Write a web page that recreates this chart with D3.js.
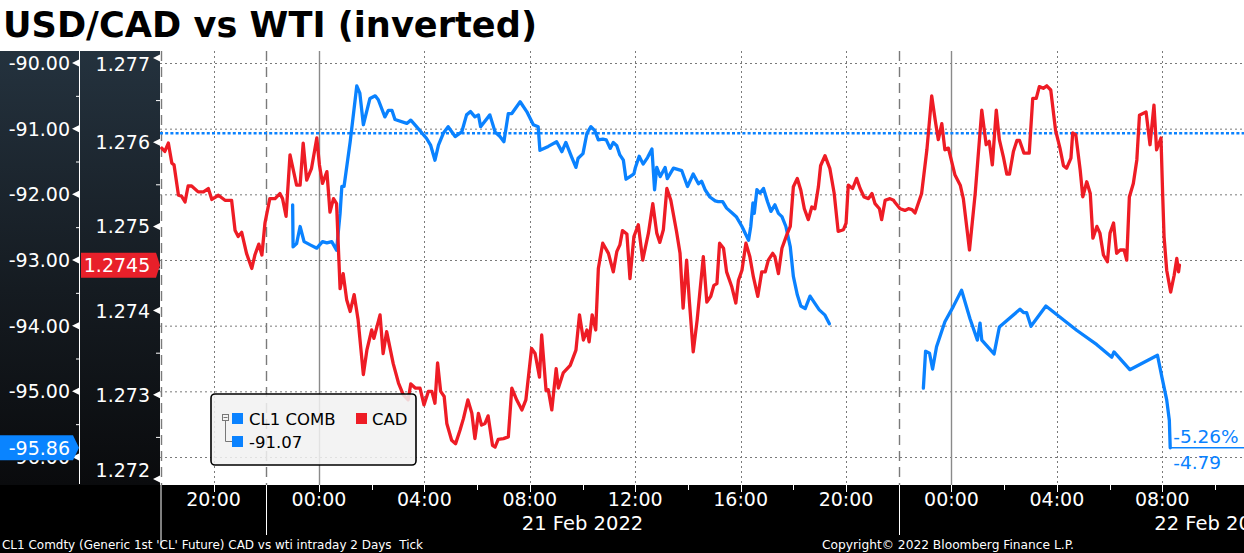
<!DOCTYPE html>
<html><head><meta charset="utf-8">
<script src="https://cdn.jsdelivr.net/npm/d3@7"></script>
<style>
html,body{margin:0;padding:0;background:#fff;overflow:hidden}
svg{display:block}
text{font-family:"DejaVu Sans",Verdana,sans-serif}
</style></head><body>
<svg id="c" width="1244" height="553"></svg>
<script>
const titleText = "USD/CAD vs WTI (inverted)";
const footerLeft = "CL1 Comdty (Generic 1st 'CL' Future) CAD vs wti intraday 2 Days  Tick";
const footerRight = "Copyright\u00a9 2022 Bloomberg Finance L.P.";
const seriesNames = ["CL1 COMB", "CAD"];
const wtiRef = -91.07;
const wtiTicks = [-90, -91, -92, -93, -94, -95, -96];
const cadTicks = [1.277, 1.276, 1.275, 1.274, 1.273, 1.272];
const timeLabelTicks = ["20 20:00","21 00:00","21 04:00","21 08:00","21 12:00","21 16:00","21 20:00","22 00:00","22 04:00","22 08:00"];
const timeMinorTicks = ["20 22:00","21 02:00","21 06:00","21 10:00","21 14:00","21 18:00","21 22:00","22 02:00","22 06:00","22 10:00"];
const dateLabels = [["21 10:00","21 Feb 2022"],["22 10:00","22 Feb 2022"]];
const dottedGrid = ["20 20:00","21 04:00","21 08:00","21 12:00","21 16:00","21 20:00","22 04:00","22 08:00"];
const solidGrid = ["21 00:00","22 00:00"];
const dashedGrid = ["20 18:00","20 22:00","21 22:00"];
const timeDomain = ["20 17:58","22 11:06"];

const cadSeries = [
["20 18:02",1.27593],["20 18:09",1.27589],["20 18:17",1.27599],["20 18:25",1.27575],["20 18:30",1.27573],
["20 18:40",1.27537],["20 18:47",1.27536],["20 18:55",1.27529],["20 19:02",1.27548],["20 19:10",1.27548],
["20 19:25",1.27541],["20 19:37",1.27541],["20 19:48",1.27545],["20 19:56",1.27532],["20 20:11",1.27537],
["20 20:26",1.27531],["20 20:41",1.27531],["20 20:49",1.27495],["20 20:56",1.27488],["20 21:04",1.27493],
["20 21:15",1.27468],["20 21:27",1.27450],["20 21:34",1.27466],["20 21:43",1.27479],["20 21:50",1.27466],
["20 21:57",1.27504],["20 22:08",1.27533],["20 22:20",1.27533],["20 22:31",1.27539],["20 22:37",1.27533],
["20 22:45",1.27512],["20 22:54",1.27585],["20 23:09",1.27549],["20 23:17",1.27549],["20 23:24",1.27599],
["20 23:32",1.27555],["20 23:43",1.27569],["20 23:55",1.27605],["21 00:01",1.27573],["21 00:08",1.27551],
["21 00:18",1.27565],["21 00:25",1.27517],["21 00:33",1.27533],["21 00:40",1.27527],["21 00:48",1.27426],
["21 00:55",1.27444],["21 01:03",1.27413],["21 01:11",1.27399],["21 01:20",1.27419],["21 01:29",1.27389],
["21 01:41",1.27324],["21 01:49",1.27353],["21 02:00",1.27377],["21 02:05",1.27367],["21 02:19",1.27395],
["21 02:26",1.27349],["21 02:34",1.27375],["21 02:49",1.27337],["21 03:01",1.27314],["21 03:12",1.27300],
["21 03:23",1.27294],["21 03:29",1.27313],["21 03:39",1.27308],["21 03:50",1.27308],["21 03:59",1.27288],
["21 04:09",1.27304],["21 04:17",1.27304],["21 04:24",1.27290],["21 04:30",1.27338],["21 04:37",1.27304],
["21 04:45",1.27298],["21 04:51",1.27266],["21 05:02",1.27246],["21 05:11",1.27242],["21 05:21",1.27258],
["21 05:29",1.27272],["21 05:39",1.27294],["21 05:48",1.27278],["21 05:55",1.27248],["21 06:03",1.27278],
["21 06:10",1.27264],["21 06:18",1.27266],["21 06:25",1.27275],["21 06:35",1.27240],["21 06:41",1.27238],
["21 06:48",1.27247],["21 07:00",1.27248],["21 07:11",1.27250],["21 07:19",1.27308],["21 07:30",1.27294],
["21 07:42",1.27282],["21 07:51",1.27294],["21 08:04",1.27355],["21 08:12",1.27349],["21 08:22",1.27321],
["21 08:27",1.27371],["21 08:37",1.27305],["21 08:42",1.27306],["21 08:50",1.27282],["21 09:00",1.27331],
["21 09:05",1.27308],["21 09:16",1.27326],["21 09:32",1.27335],["21 09:45",1.27353],["21 09:53",1.27395],
["21 10:02",1.27365],["21 10:10",1.27377],["21 10:15",1.27363],["21 10:22",1.27395],["21 10:30",1.27377],
["21 10:36",1.27450],["21 10:46",1.27480],["21 10:59",1.27468],["21 11:10",1.27446],["21 11:18",1.27470],
["21 11:25",1.27478],["21 11:31",1.27495],["21 11:41",1.27491],["21 11:48",1.27438],["21 11:57",1.27488],
["21 12:07",1.27502],["21 12:17",1.27460],["21 12:30",1.27492],["21 12:40",1.27527],["21 12:49",1.27492],
["21 12:56",1.27481],["21 13:04",1.27496],["21 13:12",1.27545],["21 13:21",1.27531],["21 13:34",1.27494],
["21 13:42",1.27468],["21 13:49",1.27403],["21 13:57",1.27460],["21 14:03",1.27413],["21 14:12",1.27351],
["21 14:21",1.27389],["21 14:35",1.27464],["21 14:43",1.27410],["21 14:52",1.27417],["21 14:59",1.27430],
["21 15:06",1.27432],["21 15:12",1.27480],["21 15:21",1.27474],["21 15:28",1.27446],["21 15:40",1.27428],
["21 15:49",1.27409],["21 15:55",1.27436],["21 16:03",1.27448],["21 16:12",1.27480],["21 16:21",1.27464],
["21 16:29",1.27440],["21 16:39",1.27417],["21 16:48",1.27446],["21 16:56",1.27446],["21 17:03",1.27460],
["21 17:13",1.27468],["21 17:18",1.27464],["21 17:26",1.27444],["21 17:34",1.27474],["21 17:45",1.27490],
["21 17:53",1.27500],["21 18:00",1.27547],["21 18:09",1.27557],["21 18:17",1.27543],["21 18:25",1.27521],
["21 18:34",1.27508],["21 18:42",1.27523],["21 18:49",1.27521],["21 18:57",1.27547],["21 19:02",1.27572],
["21 19:12",1.27584],["21 19:23",1.27569],["21 19:33",1.27539],["21 19:42",1.27494],["21 19:54",1.27496],
["21 20:00",1.27504],["21 20:05",1.27549],["21 20:15",1.27545],["21 20:24",1.27557],["21 20:32",1.27545],
["21 20:41",1.27535],["21 20:51",1.27533],["21 20:59",1.27539],["21 21:06",1.27527],["21 21:16",1.27521],
["21 21:21",1.27508],["21 21:29",1.27531],["21 21:40",1.27533],["21 21:48",1.27531],["21 21:52",1.27528],
["21 22:03",1.27521],["21 22:14",1.27519],["21 22:22",1.27521],["21 22:30",1.27520],["21 22:37",1.27516],
["21 22:52",1.27539],["21 23:04",1.27591],["21 23:15",1.27655],["21 23:23",1.27626],["21 23:30",1.27603],
["21 23:38",1.27622],["21 23:45",1.27591],["21 23:53",1.27593],["22 00:08",1.27561],["22 00:20",1.27549],
["22 00:27",1.27533],["22 00:41",1.27472],["22 00:54",1.27539],["22 01:09",1.27638],["22 01:19",1.27597],
["22 01:26",1.27601],["22 01:33",1.27573],["22 01:42",1.27638],["22 01:49",1.27603],["22 01:58",1.27583],
["22 02:06",1.27562],["22 02:12",1.27562],["22 02:21",1.27589],["22 02:29",1.27602],["22 02:35",1.27602],
["22 02:45",1.27587],["22 02:57",1.27587],["22 03:05",1.27652],["22 03:13",1.27652],["22 03:20",1.27666],
["22 03:29",1.27664],["22 03:37",1.27667],["22 03:46",1.27662],["22 03:57",1.27614],["22 04:07",1.27593],
["22 04:15",1.27572],["22 04:22",1.27569],["22 04:32",1.27581],["22 04:36",1.27611],["22 04:43",1.27609],
["22 04:53",1.27567],["22 04:59",1.27535],["22 05:08",1.27553],["22 05:16",1.27539],["22 05:22",1.27486],
["22 05:31",1.27500],["22 05:38",1.27492],["22 05:46",1.27466],["22 05:55",1.27458],["22 06:01",1.27492],
["22 06:09",1.27504],["22 06:16",1.27468],["22 06:24",1.27472],["22 06:33",1.27472],["22 06:39",1.27460],
["22 06:45",1.27535],["22 06:54",1.27551],["22 07:02",1.27579],["22 07:08",1.27632],["22 07:23",1.27636],
["22 07:32",1.27597],["22 07:41",1.27644],["22 07:47",1.27591],["22 07:57",1.27605],["22 08:01",1.27535],
["22 08:04",1.27488],["22 08:10",1.27448],["22 08:19",1.27422],["22 08:27",1.27442],["22 08:33",1.27462],
["22 08:37",1.27446],["22 08:39",1.27454]
];

const wtiSeries = [
["20 23:00",-92.16],["20 23:01",-92.80],["20 23:09",-92.75],["20 23:17",-92.49],["20 23:26",-92.72],
["20 23:40",-92.77],["20 23:55",-92.82],["21 00:08",-92.72],["21 00:18",-92.74],["21 00:29",-92.72],
["21 00:40",-92.85],["21 00:48",-92.29],["21 00:52",-91.88],["21 00:57",-91.88],["21 01:11",-91.20],
["21 01:26",-90.35],["21 01:33",-90.46],["21 01:41",-90.94],["21 01:56",-90.54],["21 02:08",-90.50],
["21 02:15",-90.56],["21 02:30",-90.82],["21 02:38",-90.72],["21 02:46",-90.72],["21 02:53",-90.86],
["21 03:20",-90.92],["21 03:29",-90.87],["21 03:42",-90.97],["21 04:05",-91.15],["21 04:14",-91.25],
["21 04:24",-91.48],["21 04:32",-91.25],["21 04:43",-91.07],["21 04:54",-90.97],["21 05:10",-91.12],
["21 05:25",-91.05],["21 05:36",-90.79],["21 05:45",-90.74],["21 05:55",-90.82],["21 06:03",-90.79],
["21 06:08",-90.97],["21 06:29",-90.79],["21 06:41",-91.05],["21 06:52",-91.12],["21 07:01",-91.20],
["21 07:11",-90.77],["21 07:19",-90.77],["21 07:38",-90.59],["21 07:53",-90.74],["21 08:08",-90.94],
["21 08:19",-90.97],["21 08:23",-91.33],["21 08:42",-91.27],["21 09:01",-91.20],["21 09:13",-91.35],
["21 09:22",-91.21],["21 09:35",-91.43],["21 09:45",-91.59],["21 09:50",-91.45],["21 10:01",-91.38],
["21 10:10",-91.07],["21 10:19",-90.97],["21 10:28",-91.03],["21 10:36",-91.17],["21 10:46",-91.16],
["21 10:54",-91.17],["21 11:03",-91.30],["21 11:10",-91.21],["21 11:18",-91.26],["21 11:25",-91.40],
["21 11:33",-91.48],["21 11:39",-91.77],["21 11:48",-91.73],["21 11:57",-91.69],["21 12:00",-91.60],
["21 12:09",-91.42],["21 12:18",-91.54],["21 12:28",-91.44],["21 12:38",-91.31],["21 12:44",-91.93],
["21 12:49",-91.59],["21 12:57",-91.73],["21 13:08",-91.59],["21 13:13",-91.76],["21 13:27",-91.60],
["21 13:46",-91.64],["21 13:59",-91.88],["21 14:12",-91.69],["21 14:24",-91.84],["21 14:31",-91.80],
["21 14:39",-91.93],["21 14:50",-92.04],["21 15:02",-92.10],["21 15:09",-92.11],["21 15:19",-92.11],
["21 15:28",-92.21],["21 15:40",-92.28],["21 15:50",-92.34],["21 16:03",-92.49],["21 16:18",-92.70],
["21 16:23",-92.49],["21 16:28",-92.13],["21 16:31",-92.29],["21 16:37",-91.93],["21 16:44",-91.98],
["21 16:52",-91.91],["21 17:01",-92.11],["21 17:09",-92.26],["21 17:18",-92.16],["21 17:26",-92.29],
["21 17:34",-92.34],["21 17:43",-92.49],["21 17:53",-92.80],["21 18:00",-93.25],["21 18:09",-93.53],
["21 18:17",-93.70],["21 18:27",-93.74],["21 18:38",-93.55],["21 18:49",-93.66],["21 18:59",-93.76],
["21 19:12",-93.84],["21 19:22",-93.97],["21 21:00",null],
["21 22:56",-94.95],["21 23:01",-94.39],["21 23:10",-94.42],["21 23:17",-94.66],["21 23:26",-94.32],
["21 23:45",-93.94],["22 00:04",-93.71],["22 00:23",-93.46],["22 00:42",-93.89],["22 00:59",-94.22],
["22 01:05",-93.96],["22 01:09",-94.22],["22 01:37",-94.43],["22 01:49",-94.02],["22 02:36",-93.75],
["22 02:44",-93.80],["22 02:51",-93.80],["22 03:01",-94.01],["22 03:35",-93.70],["22 04:11",-93.89],
["22 04:45",-94.07],["22 05:31",-94.29],["22 06:05",-94.48],["22 06:10",-94.40],["22 06:46",-94.67],
["22 07:49",-94.45],["22 07:59",-94.78],["22 08:10",-95.13],["22 08:16",-95.44],["22 08:18",-95.86]
];

const RED = "#ee1c25", BLUE = "#0a82ff";
const W = 1244, H = 553;
const plot = {l:160, r:1244, t:51, b:485};
const parse = d3.timeParse("%Y-%m-%d %H:%M");
const T = s => parse("2022-02-" + s);
const loc = d3.formatLocale({decimal:".", thousands:",", grouping:[3], currency:["$",""], minus:"-"});
const f2 = loc.format(".2f"), f3 = loc.format(".3f"), f4 = loc.format(".4f");

const x = d3.scaleTime().domain(timeDomain.map(T)).range([plot.l, plot.r]);
const yW = d3.scaleLinear().domain([-96, -90]).range([457, 63]);
const yC = d3.scaleLinear().domain([1.272, 1.277]).range([479, 58]);

const cad = cadSeries.map(d => ({t:T(d[0]), v:d[1]}));
const wti = wtiSeries.map(d => ({t:T(d[0]), v:d[1]}));

const svg = d3.select("#c");
const defs = svg.append("defs");
const g1 = defs.append("linearGradient").attr("id","pan").attr("x1",0).attr("y1",0).attr("x2",0).attr("y2",1);
g1.append("stop").attr("offset","0%").attr("stop-color","#24323e");
g1.append("stop").attr("offset","55%").attr("stop-color","#151b21");
g1.append("stop").attr("offset","100%").attr("stop-color","#0a0b0d");
defs.append("clipPath").attr("id","clip").append("rect")
  .attr("x",plot.l).attr("y",plot.t).attr("width",plot.r-plot.l).attr("height",plot.b-plot.t);

svg.append("rect").attr("width",W).attr("height",H).attr("fill","#fff");
svg.append("text").attr("x",3).attr("y",37).attr("font-size",35).attr("font-weight","bold")
  .attr("fill","#000").attr("textLength",534).attr("lengthAdjust","spacingAndGlyphs").text(titleText);

svg.append("rect").attr("x",0).attr("y",plot.t).attr("width",plot.l).attr("height",plot.b-plot.t).attr("fill","url(#pan)");
svg.append("rect").attr("x",0).attr("y",plot.b).attr("width",W).attr("height",H-plot.b).attr("fill","#000");

const pg = svg.append("g").attr("clip-path","url(#clip)");
pg.selectAll(".hg").data(wtiTicks).join("line")
  .attr("x1",plot.l).attr("x2",plot.r).attr("y1",d=>yW(d)+0.5).attr("y2",d=>yW(d)+0.5)
  .attr("stroke","#7a7a7a").attr("stroke-width",1).attr("stroke-dasharray","2,3");
pg.selectAll(".vd").data(dottedGrid).join("line")
  .attr("x1",d=>Math.round(x(T(d)))+0.5).attr("x2",d=>Math.round(x(T(d)))+0.5).attr("y1",plot.t).attr("y2",plot.b)
  .attr("stroke","#7a7a7a").attr("stroke-width",1).attr("stroke-dasharray","2,3");
pg.selectAll(".vs").data(solidGrid).join("line")
  .attr("x1",d=>Math.round(x(T(d)))+0.5).attr("x2",d=>Math.round(x(T(d)))+0.5).attr("y1",plot.t).attr("y2",plot.b)
  .attr("stroke","#8a8a8a").attr("stroke-width",1.4);
pg.selectAll(".vx").data(dashedGrid).join("line")
  .attr("x1",d=>Math.max(plot.l+1.5,Math.round(x(T(d)))+0.5)).attr("x2",d=>Math.max(plot.l+1.5,Math.round(x(T(d)))+0.5))
  .attr("y1",plot.t).attr("y2",plot.b)
  .attr("stroke","#7a7a7a").attr("stroke-width",1.4).attr("stroke-dasharray","10,6");

pg.append("line").attr("x1",plot.l).attr("x2",plot.r).attr("y1",yW(wtiRef)).attr("y2",yW(wtiRef))
  .attr("stroke",BLUE).attr("stroke-width",2.4).attr("stroke-dasharray","3,2.2");

const lineW = d3.line().defined(d=>d.v!=null).x(d=>x(d.t)).y(d=>yW(d.v));
const lineC = d3.line().x(d=>x(d.t)).y(d=>yC(d.v));
pg.append("path").datum(wti).attr("d",lineW).attr("fill","none").attr("stroke",BLUE)
  .attr("stroke-width",3.3).attr("stroke-linejoin","round").attr("stroke-linecap","round");
const lastW = wti[wti.length-1];
pg.append("line").attr("x1",x(lastW.t)).attr("x2",plot.r).attr("y1",yW(lastW.v)).attr("y2",yW(lastW.v))
  .attr("stroke",BLUE).attr("stroke-width",1.6);
pg.append("path").datum(cad).attr("d",lineC).attr("fill","none").attr("stroke",RED)
  .attr("stroke-width",3.3).attr("stroke-linejoin","round").attr("stroke-linecap","round");

const chg = lastW.v - wtiRef;
const pct = chg / Math.abs(wtiRef) * 100;
svg.append("text").attr("x",x(lastW.t)+3).attr("y",yW(lastW.v)-5).attr("font-size",18.5).attr("fill",BLUE)
  .text(f2(pct)+"%");
svg.append("text").attr("x",x(lastW.t)+3).attr("y",yW(lastW.v)+21).attr("font-size",18.5).attr("fill",BLUE)
  .text(f2(chg));

const lg = svg.append("g");
lg.append("rect").attr("x",211).attr("y",394).attr("width",205).attr("height",71).attr("rx",4)
  .attr("fill","rgba(241,241,241,0.86)").attr("stroke","#000").attr("stroke-width",1.6);
lg.append("rect").attr("x",222.5).attr("y",414.5).attr("width",6).attr("height",6).attr("fill","none").attr("stroke","#777").attr("stroke-width",1);
lg.append("line").attr("x1",223.5).attr("x2",227.5).attr("y1",417.5).attr("y2",417.5).attr("stroke","#777");
lg.append("path").attr("d","M225.5,421 V441.5 H232").attr("fill","none").attr("stroke","#777").attr("stroke-width",1);
lg.append("rect").attr("x",232).attr("y",413).attr("width",11).attr("height",11).attr("fill",BLUE);
lg.append("rect").attr("x",232).attr("y",436).attr("width",11).attr("height",11).attr("fill",BLUE);
lg.append("rect").attr("x",356).attr("y",413).attr("width",11).attr("height",11).attr("fill",RED);
lg.append("text").attr("x",249).attr("y",425).attr("font-size",16.5).attr("fill","#000").text(seriesNames[0]);
lg.append("text").attr("x",372).attr("y",425).attr("font-size",16.5).attr("fill","#000").text(seriesNames[1]);
lg.append("text").attr("x",249).attr("y",448).attr("font-size",16.5).attr("fill","#000").text(f2(wtiRef));

const ax = svg.append("g");
ax.append("line").attr("x1",79.5).attr("x2",79.5).attr("y1",plot.t).attr("y2",plot.b-1).attr("stroke","#fff").attr("stroke-width",1);
const wtiHalf = wtiTicks.slice(1).map(d=>d+0.5);
ax.selectAll(".wm").data(wtiHalf).join("line").attr("x1",76).attr("x2",79.5)
  .attr("y1",d=>yW(d)+0.5).attr("y2",d=>yW(d)+0.5).attr("stroke","#fff");
ax.selectAll(".wt").data(wtiTicks).join("path")
  .attr("d",d=>`M72,${yW(d)} L79,${yW(d)-3.5} L79,${yW(d)+3.5} Z`).attr("fill","#fff");
ax.selectAll(".wl").data(wtiTicks).join("text").attr("x",70).attr("y",d=>yW(d)+7)
  .attr("text-anchor","end").attr("font-size",19).attr("fill","#fff").text(d=>f2(d));
const cadHalf = cadTicks.slice(1).map(d=>d+0.0005);
ax.selectAll(".cm").data(cadHalf).join("line").attr("x1",156).attr("x2",160)
  .attr("y1",d=>yC(d)+0.5).attr("y2",d=>yC(d)+0.5).attr("stroke","#fff");
ax.selectAll(".ct").data(cadTicks).join("path")
  .attr("d",d=>`M153,${yC(d)} L160,${yC(d)-3.5} L160,${yC(d)+3.5} Z`).attr("fill","#fff");
ax.selectAll(".cl").data(cadTicks).join("text").attr("x",150)
  .attr("y",d=>Math.min(470,Math.max(64,yC(d)))+7)
  .attr("text-anchor","end").attr("font-size",19).attr("fill","#fff").text(d=>f3(d));

const lastC = cad[cad.length-1];
const yc = yC(lastC.v);
ax.append("path").attr("d",`M81,${yc-12.5} H156 L160,${yc} L156,${yc+12.5} H81 Z`).attr("fill","#e8202a");
ax.append("text").attr("x",117).attr("y",yc+7).attr("text-anchor","middle").attr("font-size",19).attr("fill","#fff")
  .text(f4(lastC.v));
const yw = yW(lastW.v);
ax.append("path").attr("d",`M0,${yw-12.5} H73 L79,${yw} L73,${yw+12.5} H0 Z`).attr("fill","#0a84ff");
ax.append("text").attr("x",70).attr("y",yw+7).attr("text-anchor","end").attr("font-size",19).attr("fill","#fff")
  .text(f2(lastW.v));

const xa = svg.append("g");
xa.selectAll(".tl").data(timeLabelTicks).join("line")
  .attr("x1",d=>Math.round(x(T(d)))+0.5).attr("x2",d=>Math.round(x(T(d)))+0.5).attr("y1",plot.b).attr("y2",plot.b+7)
  .attr("stroke","#fff").attr("stroke-width",1);
xa.selectAll(".tm").data(timeMinorTicks).join("line")
  .attr("x1",d=>Math.round(x(T(d)))+0.5).attr("x2",d=>Math.round(x(T(d)))+0.5).attr("y1",plot.b).attr("y2",plot.b+5)
  .attr("stroke","#fff").attr("stroke-width",1);
xa.selectAll(".tt").data(timeLabelTicks).join("text").attr("x",d=>x(T(d))).attr("y",506)
  .attr("text-anchor","middle").attr("font-size",19).attr("fill","#fff").text(d=>d.slice(3));
xa.selectAll(".dl").data(dateLabels).join("text").attr("x",d=>x(T(d[0]))).attr("y",530)
  .attr("text-anchor","middle").attr("font-size",19.5).attr("fill","#fff").text(d=>d[1]);
xa.append("line").attr("x1",161).attr("x2",161).attr("y1",plot.b).attr("y2",545).attr("stroke","#fff");
xa.selectAll(".sep").data(["20 22:00","21 22:00"]).join("line")
  .attr("x1",d=>Math.round(x(T(d)))+0.5).attr("x2",d=>Math.round(x(T(d)))+0.5).attr("y1",plot.b).attr("y2",535)
  .attr("stroke","#fff");

svg.append("text").attr("x",2).attr("y",549).attr("font-size",12.5).attr("fill","#fff")
  .style("white-space","pre").attr("textLength",421).attr("lengthAdjust","spacingAndGlyphs").text(footerLeft);
svg.append("text").attr("x",822).attr("y",549).attr("font-size",12.5).attr("fill","#fff")
  .attr("textLength",252).attr("lengthAdjust","spacingAndGlyphs").text(footerRight);
</script>
</body></html>
